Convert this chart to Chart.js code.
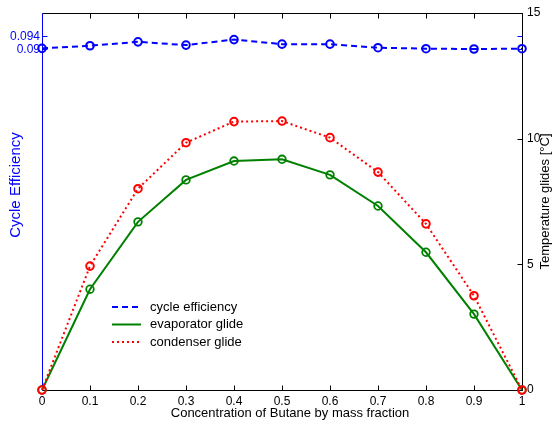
<!DOCTYPE html>
<html>
<head>
<meta charset="utf-8">
<script src="https://cdn.jsdelivr.net/npm/chart.js@4/dist/chart.umd.min.js"></script>
<style>
  html, body { margin: 0; padding: 0; background: #ffffff; }
  #wrap { width: 554px; height: 426px; }
</style>
</head>
<body>
<div id="wrap"><canvas id="c" width="554" height="426"></canvas></div>
<script>
// ---- data ----
const concentration = [0, 0.1, 0.2, 0.3, 0.4, 0.5, 0.6, 0.7, 0.8, 0.9, 1];
const cycleEfficiency = [0.0902, 0.0910, 0.0922, 0.0912, 0.0929, 0.0915, 0.0915, 0.0904, 0.0901, 0.0900, 0.0901];
const evaporatorGlide = [0, 4.01, 6.69, 8.36, 9.11, 9.18, 8.56, 7.32, 5.48, 3.02, 0];
const condenserGlide = [0, 4.93, 8.01, 9.84, 10.68, 10.70, 10.04, 8.67, 6.61, 3.75, 0];
const xTicks = [0, 0.1, 0.2, 0.3, 0.4, 0.5, 0.6, 0.7, 0.8, 0.9, 1];
const xTickLabels = ['0', '0.1', '0.2', '0.3', '0.4', '0.5', '0.6', '0.7', '0.8', '0.9', '1'];
const tempTicks = [0, 5, 10, 15];
const tempTickLabels = ['0', '5', '10', '15'];
const effTicks = [0.09, 0.094];
const effTickLabels = ['0.09', '0.094'];
const seriesNames = ['cycle efficiency', 'evaporator glide', 'condenser glide'];

const FONT = "'Liberation Sans', Arial, sans-serif";
const BLUE = '#0000ff', GREEN = '#008000', RED = '#ff0000';

function pts(vals) { return concentration.map((c, i) => ({ x: c, y: vals[i] })); }

const axesPlugin = {
  id: 'matlabAxes',
  beforeDatasetsDraw(chart) {
    const ctx = chart.ctx, a = chart.chartArea;
    const xs = chart.scales.x, yt = chart.scales.yTemp, ye = chart.scales.yEff;
    const L = Math.round(a.left) + 0.5, R = Math.round(a.right) + 0.5;
    const T = Math.round(a.top) + 0.5, B = Math.round(a.bottom) + 0.5;
    ctx.save();
    ctx.lineWidth = 1;
    ctx.setLineDash([]);
    ctx.strokeStyle = '#000000';
    ctx.beginPath();
    ctx.moveTo(L, T); ctx.lineTo(R, T); ctx.lineTo(R, B); ctx.lineTo(L, B);
    xTicks.forEach(v => {
      const px = Math.round(xs.getPixelForValue(v)) + 0.5;
      ctx.moveTo(px, B); ctx.lineTo(px, B - 5);
      ctx.moveTo(px, T); ctx.lineTo(px, T + 5);
    });
    tempTicks.forEach(v => {
      const py = Math.round(yt.getPixelForValue(v)) + 0.5;
      ctx.moveTo(R, py); ctx.lineTo(R - 5, py);
    });
    ctx.stroke();
    ctx.strokeStyle = BLUE;
    ctx.beginPath();
    ctx.moveTo(L, T); ctx.lineTo(L, B);
    effTicks.forEach(v => {
      const py = Math.round(ye.getPixelForValue(v)) + 0.5;
      ctx.moveTo(L, py); ctx.lineTo(L + 5, py);
      ctx.moveTo(R, py); ctx.lineTo(R - 5, py);
    });
    ctx.stroke();
    ctx.restore();
  },
  afterDraw(chart) {
    const ctx = chart.ctx, a = chart.chartArea;
    const xs = chart.scales.x, yt = chart.scales.yTemp, ye = chart.scales.yEff;
    ctx.save();
    ctx.font = '12px ' + FONT;
    ctx.fillStyle = '#000000';
    ctx.textAlign = 'center';
    ctx.textBaseline = 'middle';
    xTicks.forEach((v, i) => ctx.fillText(xTickLabels[i], xs.getPixelForValue(v), a.bottom + 12));
    ctx.font = '13px ' + FONT;
    ctx.fillText('Concentration of Butane by mass fraction', 290, a.bottom + 23.5);
    ctx.font = '12px ' + FONT;
    ctx.textAlign = 'left';
    tempTicks.forEach((v, i) => ctx.fillText(tempTickLabels[i], a.right + 5, yt.getPixelForValue(v)));
    ctx.fillStyle = BLUE;
    ctx.textAlign = 'right';
    effTicks.forEach((v, i) => ctx.fillText(effTickLabels[i], a.left - 2, ye.getPixelForValue(v) + 0.5));
    // axis titles
    ctx.save();
    ctx.translate(545, (a.top + a.bottom) / 2);
    ctx.rotate(-Math.PI / 2);
    ctx.textAlign = 'center';
    ctx.fillStyle = '#000000';
    ctx.font = '13px ' + FONT;
    ctx.fillText('Temperature glides [\u00B0C]', 0, 0);
    ctx.restore();
    ctx.save();
    ctx.translate(15.5, 185);
    ctx.rotate(-Math.PI / 2);
    ctx.textAlign = 'center';
    ctx.fillStyle = BLUE;
    ctx.font = '15px ' + FONT;
    ctx.fillText('Cycle Efficiency', 0, 0);
    ctx.restore();
    // legend
    const ds = chart.data.datasets;
    const rows = [307, 324.5, 342];
    [0, 1, 2].forEach(k => {
      const d = ds.find(s => s.label === seriesNames[k]);
      ctx.beginPath();
      ctx.strokeStyle = d.borderColor;
      ctx.lineWidth = d.borderWidth;
      ctx.setLineDash(d.borderDash || []);
      ctx.moveTo(112, rows[k]); ctx.lineTo(141, rows[k]);
      ctx.stroke();
      ctx.setLineDash([]);
      ctx.fillStyle = '#000000';
      ctx.textAlign = 'left';
      ctx.font = '13px ' + FONT;
      ctx.fillText(seriesNames[k], 150, rows[k]);
    });
    ctx.restore();
  }
};

new Chart(document.getElementById('c'), {
  type: 'line',
  data: {
    datasets: [
      {
        label: seriesNames[2], data: pts(condenserGlide), yAxisID: 'yTemp', order: 0,
        borderColor: RED, borderWidth: 2, borderDash: [2, 3], pointStyle: 'circle',
        pointRadius: 3.8, pointBorderWidth: 2, pointBorderColor: RED,
        pointBackgroundColor: 'rgba(255,255,255,0)', clip: false, tension: 0
      },
      {
        label: seriesNames[1], data: pts(evaporatorGlide), yAxisID: 'yTemp', order: 1,
        borderColor: GREEN, borderWidth: 2, pointStyle: 'circle',
        pointRadius: 3.8, pointBorderWidth: 1.8, pointBorderColor: GREEN,
        pointBackgroundColor: 'rgba(255,255,255,0)', clip: false, tension: 0
      },
      {
        label: seriesNames[0], data: pts(cycleEfficiency), yAxisID: 'yEff', order: 2,
        borderColor: BLUE, borderWidth: 2, borderDash: [6, 4], pointStyle: 'circle',
        pointRadius: 3.8, pointBorderWidth: 2, pointBorderColor: BLUE,
        pointBackgroundColor: 'rgba(255,255,255,0)', clip: false, tension: 0
      }
    ]
  },
  options: {
    responsive: false,
    animation: false,
    devicePixelRatio: 1,
    layout: { padding: { top: 13, left: 0, right: 0, bottom: 0 } },
    plugins: { legend: { display: false }, tooltip: { enabled: false } },
    scales: {
      x: {
        type: 'linear', position: 'bottom', min: 0, max: 1,
        ticks: { display: false }, grid: { display: false, drawTicks: false }, border: { display: false },
        afterFit(s) { s.height = 36; }
      },
      yEff: {
        type: 'linear', position: 'left', min: -0.014923, max: 0.101077,
        ticks: { display: false }, grid: { display: false, drawTicks: false }, border: { display: false },
        afterFit(s) { s.width = 42; }
      },
      yTemp: {
        type: 'linear', position: 'right', min: 0, max: 15,
        ticks: { display: false }, grid: { display: false, drawTicks: false }, border: { display: false },
        afterFit(s) { s.width = 32; }
      }
    }
  },
  plugins: [axesPlugin]
});
</script>
</body>
</html>
